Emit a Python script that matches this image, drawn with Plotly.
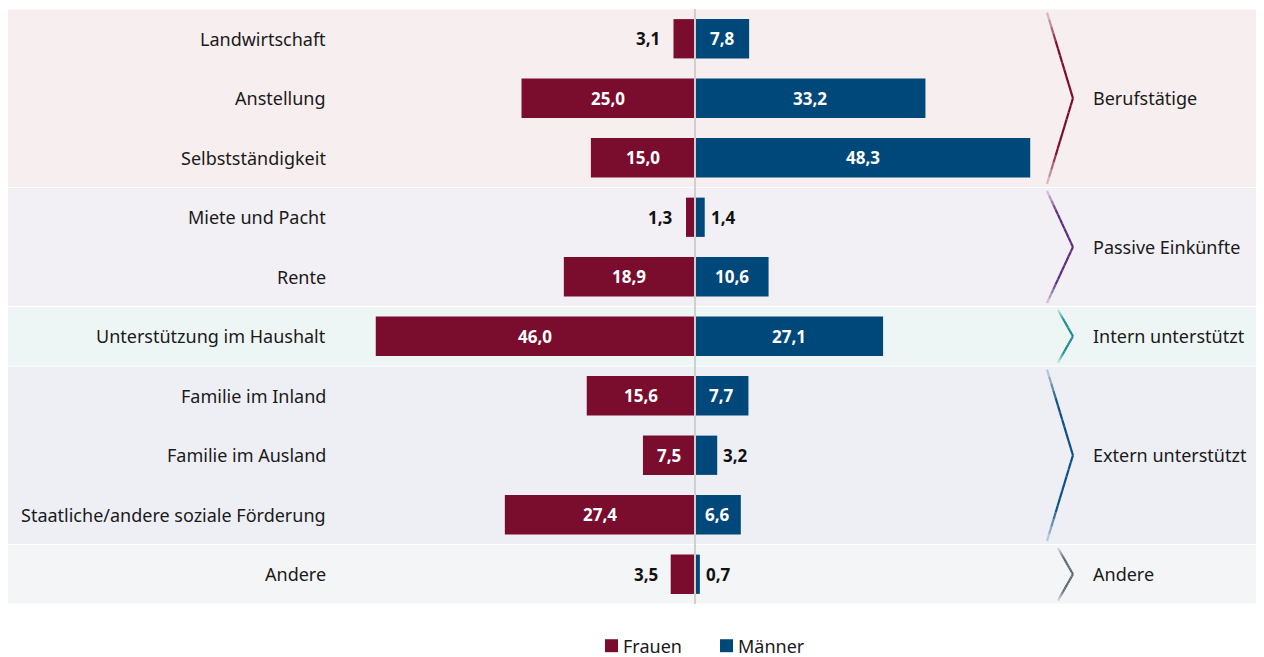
import plotly.graph_objects as go

# Einkommensquellen nach Geschlecht (Anteil in %)
categories = ["Landwirtschaft", "Anstellung", "Selbstständigkeit", "Miete und Pacht", "Rente",
              "Unterstützung im Haushalt", "Familie im Inland", "Familie im Ausland",
              "Staatliche/andere soziale Förderung", "Andere"]
frauen = [3.1, 25.0, 15.0, 1.3, 18.9, 46.0, 15.6, 7.5, 27.4, 3.5]
maenner = [7.8, 33.2, 48.3, 1.4, 10.6, 27.1, 7.7, 3.2, 6.6, 0.7]

groups = ["Berufstätige", "Passive Einkünfte", "Intern unterstützt", "Extern unterstützt", "Andere"]
group_sizes = [3, 2, 1, 3, 1]
band_colors = ["#f7eeef", "#f2eff5", "#eef6f5", "#eeeff5", "#f4f5f7"]
chevron_colors = ["#7b0c2e", "#5c2d7e", "#168a8a", "#0d4f85", "#5b6770"]

FRAUEN_COL = "#7a0c2e"
MAENNER_COL = "#00477a"
FONT = "Noto Sans"
TXT = "#1a1a1a"

def fmt(v):
    return f"{v:.1f}".replace(".", ",")

fig = go.Figure()
fig.add_trace(go.Bar(y=categories, x=[-v for v in frauen], orientation="h", name="Frauen",
                     marker=dict(color=FRAUEN_COL, line=dict(width=0)), width=0.66,
                     hoverinfo="skip", showlegend=False))
fig.add_trace(go.Bar(y=categories, x=maenner, orientation="h", name="Männer",
                     marker=dict(color=MAENNER_COL, line=dict(width=0)), width=0.66,
                     hoverinfo="skip", showlegend=False))

shapes = []
annotations = []

# background bands + chevrons + group labels
start = 0
for g, n, bc, cc in zip(groups, group_sizes, band_colors, chevron_colors):
    y0 = start - 0.5
    y1 = start + n - 0.5
    shapes.append(dict(type="rect", xref="paper", yref="y", x0=-0.0016, x1=1, y0=y0 + 0.01, y1=y1 - 0.01,
                       fillcolor=bc, line=dict(width=0), layer="below"))
    tip_x = 0.8506
    base_x = 0.8387 if n == 1 else 0.8299
    top = y0 + 0.06
    bot = y1 - 0.06
    mid = (y0 + y1) / 2
    k = 12
    for (ya, xa) in [(top, base_x), (bot, base_x)]:
        for i in range(k):
            t0, t1 = i / k, (i + 1) / k
            op = min(1.0, 0.15 + 2.2 * (t0 + t1) / 2)
            shapes.append(dict(type="line", xref="paper", yref="y",
                               x0=xa + (tip_x - xa) * t0, x1=xa + (tip_x - xa) * t1,
                               y0=ya + (mid - ya) * t0, y1=ya + (mid - ya) * t1,
                               line=dict(color=cc, width=2.2), opacity=op, layer="above"))
    annotations.append(dict(text=g, xref="paper", yref="y", x=0.8650, y=mid, xanchor="left",
                            yanchor="middle", showarrow=False,
                            font=dict(family=FONT, size=18, color=TXT)))
    start += n

# zero line
shapes.append(dict(type="line", xref="x", yref="paper", x0=0, x1=0, y0=0, y1=1,
                   line=dict(color="#cfcfcf", width=2), layer="above"))

# category labels
for c in categories:
    annotations.append(dict(text=c, xref="paper", yref="y", x=0.2556, y=c, xanchor="right",
                            yanchor="middle", showarrow=False,
                            font=dict(family=FONT, size=18, color=TXT)))

# value labels
for c, f, m in zip(categories, frauen, maenner):
    if f >= 5:
        annotations.append(dict(text=f"<b>{fmt(f)}</b>", x=-f / 2, y=c, showarrow=False,
                                font=dict(family=FONT, size=17, color="white")))
    else:
        annotations.append(dict(text=f"<b>{fmt(f)}</b>", x=-f, y=c, xanchor="right", xshift=-11,
                                showarrow=False, font=dict(family=FONT, size=17, color="#111111")))
    if m >= 5:
        annotations.append(dict(text=f"<b>{fmt(m)}</b>", x=m / 2, y=c, showarrow=False,
                                font=dict(family=FONT, size=17, color="white")))
    else:
        annotations.append(dict(text=f"<b>{fmt(m)}</b>", x=m, y=c, xanchor="left", xshift=4,
                                showarrow=False, font=dict(family=FONT, size=17, color="#111111")))

# legend (drawn by hand for tighter spacing)
legend_items = [("Frauen", FRAUEN_COL, 0.4768), ("Männer", MAENNER_COL, 0.5687)]
for name, col, lx in legend_items:
    shapes.append(dict(type="rect", xref="paper", yref="paper", x0=lx, x1=lx + 0.0104,
                       y0=-0.0810, y1=-0.0592, fillcolor=col, line=dict(width=0)))
    annotations.append(dict(text=name, xref="paper", yref="paper", x=lx + 0.0125, y=-0.0705,
                            xanchor="left", yanchor="middle", showarrow=False,
                            font=dict(family=FONT, size=18, color=TXT)))

fig.update_layout(
    width=1256, height=649,
    margin=dict(l=0, r=4, t=1, b=53),
    barmode="relative",
    paper_bgcolor="white", plot_bgcolor="rgba(0,0,0,0)",
    shapes=shapes, annotations=annotations,
    showlegend=False,
    font=dict(family=FONT),
)
fig.update_xaxes(range=[-98.99, 81.41], visible=False, fixedrange=True)
fig.update_yaxes(autorange=False, range=[9.5, -0.5], showticklabels=False, showgrid=False,
                 zeroline=False, fixedrange=True)

fig.write_html("out.html")
